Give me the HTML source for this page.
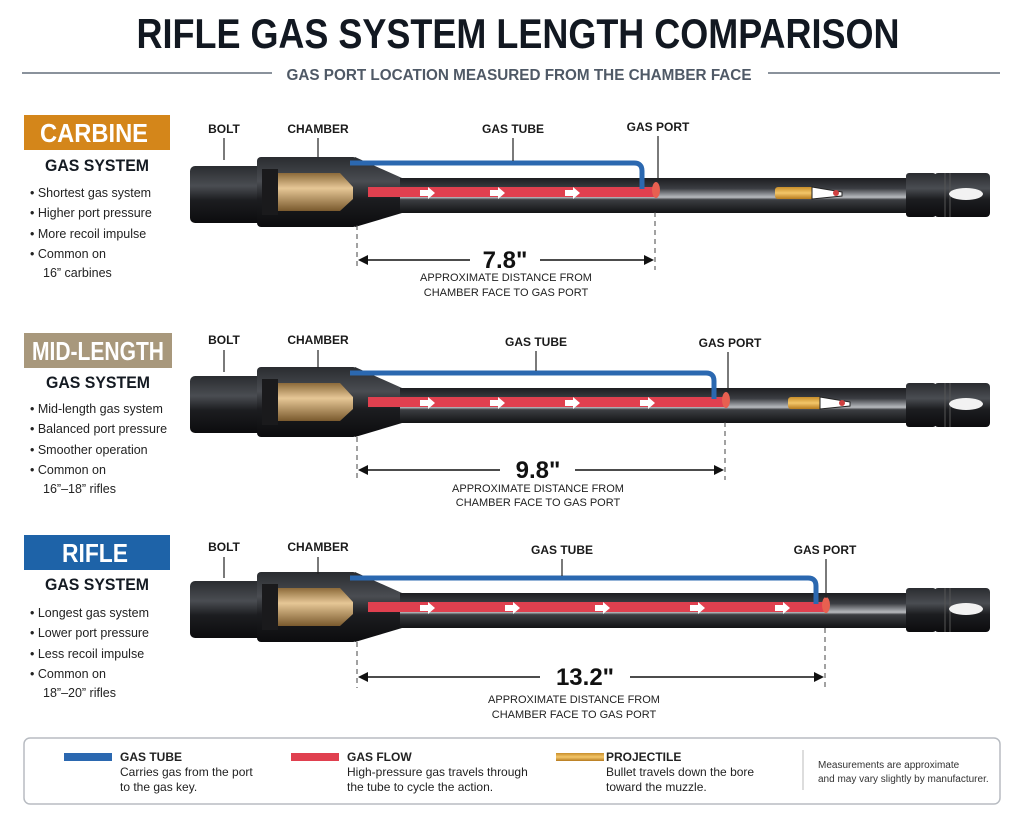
<!DOCTYPE html>
<html><head><meta charset="utf-8"><style>
html,body{margin:0;padding:0;background:#fff;}
svg{display:block;}
text{font-family:"Liberation Sans Narrow","Liberation Sans",sans-serif;}
</style></head><body>
<svg width="1024" height="819" viewBox="0 0 1024 819" xmlns="http://www.w3.org/2000/svg">
<defs>
<linearGradient id="blk" x1="0" y1="0" x2="0" y2="1">
<stop offset="0" stop-color="#2a2c30"/><stop offset="0.35" stop-color="#4a4d52"/><stop offset="0.6" stop-color="#1c1d20"/><stop offset="1" stop-color="#0c0c0e"/></linearGradient>
<linearGradient id="brl" x1="0" y1="0" x2="0" y2="1">
<stop offset="0" stop-color="#1d1e21"/><stop offset="0.3" stop-color="#3b3d42"/><stop offset="0.55" stop-color="#b8bbbf"/><stop offset="0.62" stop-color="#3c3e42"/><stop offset="1" stop-color="#121315"/></linearGradient>
<linearGradient id="brass" x1="0" y1="0" x2="0" y2="1">
<stop offset="0" stop-color="#8c6a3a"/><stop offset="0.4" stop-color="#e6c796"/><stop offset="1" stop-color="#7a5a2e"/></linearGradient>
<linearGradient id="proj" x1="0" y1="0" x2="0" y2="1">
<stop offset="0" stop-color="#c98e2a"/><stop offset="0.5" stop-color="#f3c66a"/><stop offset="1" stop-color="#b67b1e"/></linearGradient>
<g id="base">
<rect x="190" y="-29" width="72" height="57" rx="5" fill="url(#blk)"/>
<polygon points="355,-38 402,-17 402,18 355,32" fill="url(#blk)"/>
<rect x="400" y="-17" width="512" height="35" fill="url(#brl)"/>
<rect x="257" y="-38" width="100" height="70" rx="4" fill="url(#blk)"/>
<rect x="262" y="-26" width="16" height="46" fill="#1a1a1c"/>
<polygon points="278,-22 340,-22 353,-8 353,4 340,16 278,16" fill="url(#brass)"/>
<rect x="906" y="-22" width="30" height="44" rx="3" fill="url(#blk)"/>
<rect x="934" y="-22" width="56" height="44" rx="4" fill="url(#blk)"/>
<line x1="945" y1="-22" x2="945" y2="22" stroke="#555" stroke-width="1"/>
<line x1="950" y1="-22" x2="950" y2="22" stroke="#555" stroke-width="1"/>
<ellipse cx="966" cy="-1" rx="17" ry="6" fill="#f2f2f2"/>
</g>
<g id="arrow"><polygon points="0,-5 8,-5 8,-8 15,-2 8,4 8,1 0,1" fill="#fff"/></g>
</defs>

<!-- header -->
<text x="518" y="48" text-anchor="middle" font-size="42" font-weight="bold" fill="#121821" textLength="763" lengthAdjust="spacingAndGlyphs">RIFLE GAS SYSTEM LENGTH COMPARISON</text>
<line x1="22" y1="73" x2="272" y2="73" stroke="#8a929c" stroke-width="2"/>
<line x1="768" y1="73" x2="1000" y2="73" stroke="#8a929c" stroke-width="2"/>
<text x="519" y="80" text-anchor="middle" font-size="16" font-weight="bold" fill="#4f5966" textLength="465" lengthAdjust="spacingAndGlyphs">GAS PORT LOCATION MEASURED FROM THE CHAMBER FACE</text>

<!-- Section 1 -->
<rect x="24" y="115" width="146" height="35" fill="#d4861a"/>
<text x="94" y="142" text-anchor="middle" font-size="26" font-weight="bold" fill="#fff" textLength="108" lengthAdjust="spacingAndGlyphs">CARBINE</text>
<text x="97" y="171" text-anchor="middle" font-size="17" font-weight="bold" fill="#141a22" textLength="104" lengthAdjust="spacingAndGlyphs">GAS SYSTEM</text>
<g font-size="12.5" fill="#222">
<text x="30" y="197">• Shortest gas system</text>
<text x="30" y="217">• Higher port pressure</text>
<text x="30" y="238">• More recoil impulse</text>
<text x="30" y="258">• Common on</text>
<text x="43" y="277">16” carbines</text></g>

<g transform="translate(0,195)">
<use href="#base"/>
<rect x="368" y="-8" width="288" height="10" fill="#e0404f"/>
<path d="M350,-32 H634 Q642,-32 642,-24 V-6" fill="none" stroke="#2b68b0" stroke-width="5"/>
<use href="#arrow" x="420" y="0"/><use href="#arrow" x="490" y="0"/><use href="#arrow" x="565" y="0"/>
<ellipse cx="656" cy="-5" rx="4" ry="8" fill="#e86050"/>
<rect x="775" y="-8" width="40" height="12" rx="3" fill="url(#proj)"/>
<path d="M812,-8 L842,-3 L842,1 L812,4Z" fill="#fff" stroke="#222"/>
<circle cx="836" cy="-2" r="3" fill="#d04040"/>
</g>
<g font-size="12" font-weight="bold" fill="#1a1a1a">
<text x="224" y="133" text-anchor="middle">BOLT</text>
<text x="318" y="133" text-anchor="middle">CHAMBER</text>
<text x="513" y="133" text-anchor="middle">GAS TUBE</text>
<text x="658" y="131" text-anchor="middle">GAS PORT</text></g>
<g stroke="#222" stroke-width="1.2"><line x1="224" y1="138" x2="224" y2="160"/><line x1="318" y1="138" x2="318" y2="157"/><line x1="513" y1="138" x2="513" y2="161"/><line x1="658" y1="136" x2="658" y2="180"/></g>
<g stroke="#444" stroke-dasharray="5,4"><line x1="357" y1="225" x2="357" y2="270"/><line x1="655" y1="212" x2="655" y2="270"/></g>
<line x1="362" y1="260" x2="470" y2="260" stroke="#111" stroke-width="1.5"/><line x1="540" y1="260" x2="650" y2="260" stroke="#111" stroke-width="1.5"/>
<polygon points="358,260 368,255 368,265" fill="#111"/><polygon points="654,260 644,255 644,265" fill="#111"/>
<text x="505" y="268" text-anchor="middle" font-size="24" font-weight="bold" fill="#111">7.8"</text>
<text x="506" y="281" text-anchor="middle" font-size="11" fill="#222">APPROXIMATE DISTANCE FROM</text>
<text x="506" y="296" text-anchor="middle" font-size="11" fill="#222">CHAMBER FACE TO GAS PORT</text>

<!-- Section 2 -->
<rect x="24" y="333" width="148" height="35" fill="#a8987c"/>
<text x="98" y="360" text-anchor="middle" font-size="26" font-weight="bold" fill="#fff" textLength="132" lengthAdjust="spacingAndGlyphs">MID-LENGTH</text>
<text x="98" y="388" text-anchor="middle" font-size="17" font-weight="bold" fill="#141a22" textLength="104" lengthAdjust="spacingAndGlyphs">GAS SYSTEM</text>
<g font-size="12.5" fill="#222">
<text x="30" y="413">• Mid-length gas system</text>
<text x="30" y="433">• Balanced port pressure</text>
<text x="30" y="454">• Smoother operation</text>
<text x="30" y="474">• Common on</text>
<text x="43" y="493">16”–18” rifles</text></g>

<g transform="translate(0,405)">
<use href="#base"/>
<rect x="368" y="-8" width="358" height="10" fill="#e0404f"/>
<path d="M350,-32 H706 Q714,-32 714,-24 V-6" fill="none" stroke="#2b68b0" stroke-width="5"/>
<use href="#arrow" x="420" y="0"/><use href="#arrow" x="490" y="0"/><use href="#arrow" x="565" y="0"/><use href="#arrow" x="640" y="0"/>
<ellipse cx="726" cy="-5" rx="4" ry="8" fill="#e86050"/>
<rect x="788" y="-8" width="35" height="12" rx="3" fill="url(#proj)"/>
<path d="M820,-8 L850,-3 L850,1 L820,4Z" fill="#fff" stroke="#222"/>
<circle cx="842" cy="-2" r="3" fill="#d04040"/>
</g>
<g font-size="12" font-weight="bold" fill="#1a1a1a">
<text x="224" y="344" text-anchor="middle">BOLT</text>
<text x="318" y="344" text-anchor="middle">CHAMBER</text>
<text x="536" y="346" text-anchor="middle">GAS TUBE</text>
<text x="730" y="347" text-anchor="middle">GAS PORT</text></g>
<g stroke="#222" stroke-width="1.2"><line x1="224" y1="350" x2="224" y2="372"/><line x1="318" y1="350" x2="318" y2="368"/><line x1="536" y1="351" x2="536" y2="371"/><line x1="728" y1="352" x2="728" y2="392"/></g>
<g stroke="#444" stroke-dasharray="5,4"><line x1="357" y1="437" x2="357" y2="480"/><line x1="725" y1="422" x2="725" y2="480"/></g>
<line x1="362" y1="470" x2="500" y2="470" stroke="#111" stroke-width="1.5"/><line x1="575" y1="470" x2="720" y2="470" stroke="#111" stroke-width="1.5"/>
<polygon points="358,470 368,465 368,475" fill="#111"/><polygon points="724,470 714,465 714,475" fill="#111"/>
<text x="538" y="478" text-anchor="middle" font-size="24" font-weight="bold" fill="#111">9.8"</text>
<text x="538" y="492" text-anchor="middle" font-size="11" fill="#222">APPROXIMATE DISTANCE FROM</text>
<text x="538" y="506" text-anchor="middle" font-size="11" fill="#222">CHAMBER FACE TO GAS PORT</text>

<!-- Section 3 -->
<rect x="24" y="535" width="146" height="35" fill="#1e63a8"/>
<text x="95" y="562" text-anchor="middle" font-size="26" font-weight="bold" fill="#fff" textLength="66" lengthAdjust="spacingAndGlyphs">RIFLE</text>
<text x="97" y="590" text-anchor="middle" font-size="17" font-weight="bold" fill="#141a22" textLength="104" lengthAdjust="spacingAndGlyphs">GAS SYSTEM</text>
<g font-size="12.5" fill="#222">
<text x="30" y="617">• Longest gas system</text>
<text x="30" y="637">• Lower port pressure</text>
<text x="30" y="658">• Less recoil impulse</text>
<text x="30" y="678">• Common on</text>
<text x="43" y="697">18”–20” rifles</text></g>

<g transform="translate(0,610)">
<use href="#base"/>
<rect x="368" y="-8" width="458" height="10" fill="#e0404f"/>
<path d="M350,-32 H808 Q816,-32 816,-24 V-6" fill="none" stroke="#2b68b0" stroke-width="5"/>
<use href="#arrow" x="420" y="0"/><use href="#arrow" x="505" y="0"/><use href="#arrow" x="595" y="0"/><use href="#arrow" x="690" y="0"/><use href="#arrow" x="775" y="0"/>
<ellipse cx="826" cy="-5" rx="4" ry="8" fill="#e86050"/>
</g>
<g font-size="12" font-weight="bold" fill="#1a1a1a">
<text x="224" y="551" text-anchor="middle">BOLT</text>
<text x="318" y="551" text-anchor="middle">CHAMBER</text>
<text x="562" y="554" text-anchor="middle">GAS TUBE</text>
<text x="825" y="554" text-anchor="middle">GAS PORT</text></g>
<g stroke="#222" stroke-width="1.2"><line x1="224" y1="557" x2="224" y2="578"/><line x1="318" y1="557" x2="318" y2="574"/><line x1="562" y1="559" x2="562" y2="576"/><line x1="826" y1="559" x2="826" y2="598"/></g>
<g stroke="#444" stroke-dasharray="5,4"><line x1="357" y1="642" x2="357" y2="688"/><line x1="825" y1="628" x2="825" y2="688"/></g>
<line x1="362" y1="677" x2="540" y2="677" stroke="#111" stroke-width="1.5"/><line x1="630" y1="677" x2="820" y2="677" stroke="#111" stroke-width="1.5"/>
<polygon points="358,677 368,672 368,682" fill="#111"/><polygon points="824,677 814,672 814,682" fill="#111"/>
<text x="585" y="685" text-anchor="middle" font-size="24" font-weight="bold" fill="#111">13.2"</text>
<text x="574" y="703" text-anchor="middle" font-size="11" fill="#222">APPROXIMATE DISTANCE FROM</text>
<text x="574" y="718" text-anchor="middle" font-size="11" fill="#222">CHAMBER FACE TO GAS PORT</text>

<!-- Legend -->
<rect x="24" y="738" width="976" height="66" rx="6" fill="#fff" stroke="#b8bcc2" stroke-width="1.5"/>
<rect x="64" y="753" width="48" height="8" fill="#2b68b0"/>
<rect x="291" y="753" width="48" height="8" fill="#e0404f"/>
<rect x="556" y="753" width="48" height="8" fill="url(#proj)"/>
<g font-size="12" fill="#222">
<text x="120" y="761" font-weight="bold">GAS TUBE</text>
<text x="120" y="776">Carries gas from the port</text>
<text x="120" y="791">to the gas key.</text>
<text x="347" y="761" font-weight="bold">GAS FLOW</text>
<text x="347" y="776">High-pressure gas travels through</text>
<text x="347" y="791">the tube to cycle the action.</text>
<text x="606" y="761" font-weight="bold">PROJECTILE</text>
<text x="606" y="776">Bullet travels down the bore</text>
<text x="606" y="791">toward the muzzle.</text></g>
<line x1="803" y1="750" x2="803" y2="790" stroke="#bbb"/>
<text x="818" y="768" font-size="10" fill="#333">Measurements are approximate</text>
<text x="818" y="782" font-size="10" fill="#333">and may vary slightly by manufacturer.</text>
</svg>
</body></html>
